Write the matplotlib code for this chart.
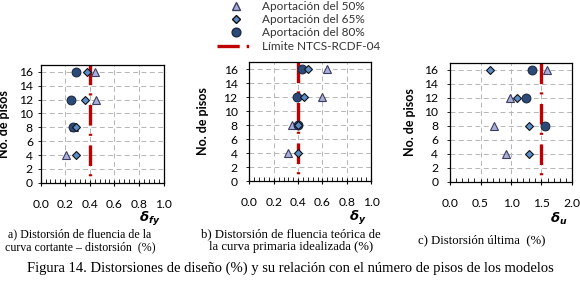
import numpy as np
import matplotlib
matplotlib.use('Agg')
import matplotlib.pyplot as plt
from matplotlib.lines import Line2D
from matplotlib.ticker import MultipleLocator

plt.rcParams['font.family'] = ['Lato', 'DejaVu Sans']
plt.rcParams['lines.scale_dashes'] = False

# datos
pisos = [16, 12, 8, 4]

# a) distorsion de fluencia cortante - distorsion
a_50 = [0.44, 0.45, 0.27, 0.21]
a_65 = [0.38, 0.36, 0.29, 0.29]
a_80 = [0.29, 0.25, 0.26, np.nan]

# b) distorsion de fluencia teorica
b_50 = [0.64, 0.60, 0.35, 0.32]
b_65 = [0.48, 0.45, 0.40, 0.40]
b_80 = [0.43, 0.39, 0.40, np.nan]

# c) distorsion ultima
c_50 = [1.59, 0.98, 0.72, 0.92]
c_65 = [0.66, 1.10, 1.29, 1.29]
c_80 = [1.35, 1.25, 1.56, np.nan]

limites = [0.4, 0.4, 1.5]
x_max = [1.0, 1.0, 2.0]
x_paso = [0.2, 0.2, 0.5]
x_etiquetas = [r'$\mathbfit{\delta}_{\mathbfit{fy}}$',
               r'$\mathbfit{\delta}_{\mathbfit{y}}$',
               r'$\mathbfit{\delta}_{\mathbfit{u}}$']
subtitulos = ['a) Distorsión de fluencia de la\ncurva cortante – distorsión  (%)',
              'b) Distorsión de fluencia teórica de\nla curva primaria idealizada (%)',
              'c) Distorsión última  (%)']
leyenda = ['Aportación del 50%', 'Aportación del 65%', 'Aportación del 80%',
           'Límite NTCS-RCDF-04']
titulo = 'Figura 14. Distorsiones de diseño (%) y su relación con el número de pisos de los modelos'

c_tri = '#a9add8'
c_dia = '#5b8ec9'
c_cir = '#2c4a78'
c_lim = '#c00000'
patron = (16.5, (14.8, 6.9, 1.5, 5.9))

fig = plt.figure(figsize=(5.8, 2.82), dpi=100)
posiciones = [[0.070, 0.352, 0.212, 0.418],
              [0.430, 0.358, 0.210, 0.422],
              [0.776, 0.355, 0.210, 0.422]]
series = [(a_50, a_65, a_80), (b_50, b_65, b_80), (c_50, c_65, c_80)]
pad_y = [3, 6, 6]
pos_ylabel = [-0.245, -0.33, -0.28]
centros_sub = [0.138, 0.502, 0.83]
tam_sub = [8.6, 9.2, 9.2]

for i in range(3):
    ax = fig.add_axes(posiciones[i])
    s50, s65, s80 = series[i]
    ax.plot([limites[i], limites[i]], [0, 17], color=c_lim, lw=2.4,
            linestyle=patron, solid_capstyle='butt', dash_capstyle='butt', zorder=2)
    ax.plot(s50, pisos, '^', ms=6, mfc=c_tri, mec='#3a3d60', mew=0.8, ls='none', zorder=3)
    ax.plot(s80, pisos, 'o', ms=6.3, mfc=c_cir, mec='#1c2a45', mew=0.8, ls='none', zorder=4)
    ax.plot(s65, pisos, 'D', ms=4.3, mfc=c_dia, mec='#111111', mew=0.8, ls='none', zorder=5)

    ax.set_xlim(0, x_max[i])
    ax.set_ylim(0, 17)
    ax.xaxis.set_major_locator(MultipleLocator(x_paso[i]))
    ax.xaxis.set_minor_locator(MultipleLocator(x_paso[i] / 5))
    ax.yaxis.set_major_locator(MultipleLocator(2))
    ax.xaxis.set_major_formatter(plt.FormatStrFormatter('%.1f'))
    ax.tick_params(axis='x', which='major', direction='inout', length=5, width=0.8,
                   labelsize=8.7, pad=9, colors='black')
    ax.tick_params(axis='x', which='minor', direction='in', length=3, width=0.6)
    ax.tick_params(axis='y', which='major', direction='out', length=2.5, width=0.6,
                   labelsize=8.7, pad=pad_y[i])
    ax.grid(True, which='major', color='#b5b5b5', linestyle=(0, (3.5, 2.5)), lw=0.7)
    ax.set_axisbelow(True)
    for sp in ax.spines.values():
        sp.set_linewidth(0.9)
    ax.set_ylabel('No. de pisos', fontsize=9, fontweight='bold')
    ax.yaxis.set_label_coords(pos_ylabel[i], 0.5)
    ax.text(0.89, -0.31, x_etiquetas[i], transform=ax.transAxes, fontsize=9.5,
            ha='center', va='center')
    fig.text(centros_sub[i], 0.147, subtitulos[i], ha='center', va='center',
             family='Liberation Serif', fontsize=tam_sub[i], linespacing=1.15)

handles = [Line2D([], [], marker='^', ms=6, mfc=c_tri, mec='#3a3d60', ls='none'),
           Line2D([], [], marker='D', ms=4.3, mfc=c_dia, mec='#111111', ls='none'),
           Line2D([], [], marker='o', ms=6.3, mfc=c_cir, mec='#1c2a45', ls='none'),
           Line2D([], [], color=c_lim, lw=2.4, linestyle=(0, (16, 5, 1.8, 12)))]
fig.legend(handles, leyenda, loc='upper center', bbox_to_anchor=(0.515, 1.035),
           frameon=False, fontsize=8.5, handlelength=3.2, handletextpad=0.6,
           labelspacing=0.2, labelcolor='#333333')

fig.text(0.5, 0.05, titulo, ha='center', va='center', family='Liberation Serif',
         fontsize=10.5)

fig.savefig('out.png', dpi=100)
